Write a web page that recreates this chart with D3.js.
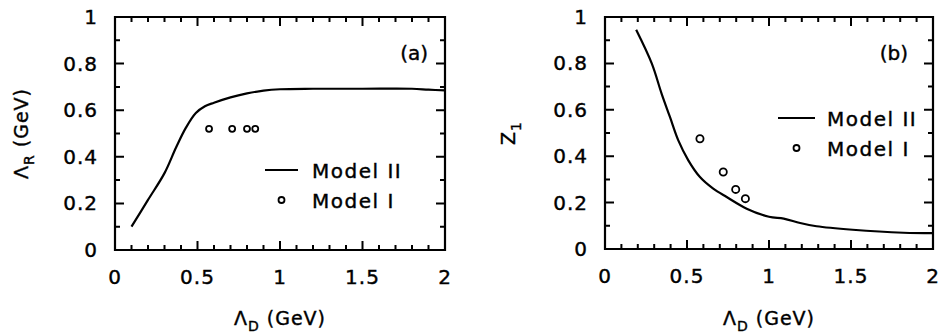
<!DOCTYPE html>
<html>
<head>
<meta charset="utf-8">
<script src="https://cdn.jsdelivr.net/npm/d3@7"></script>
<style>
  body { margin: 0; background: #fff; }
  text { font-family: "DejaVu Sans", sans-serif; fill: #000; }
</style>
</head>
<body>
<svg id="chart" width="941" height="333"></svg>
<script>
// ---- data ----
const xTicks = [0, 0.5, 1, 1.5, 2];
const xTickLabels = ["0", "0.5", "1", "1.5", "2"];
const yTicks = [0, 0.2, 0.4, 0.6, 0.8, 1];
const yTickLabels = ["0", "0.2", "0.4", "0.6", "0.8", "1"];
const xMinor = [0, 0.1, 0.2, 0.3, 0.4, 0.5, 0.6, 0.7, 0.8, 0.9, 1, 1.1, 1.2, 1.3, 1.4, 1.5, 1.6, 1.7, 1.8, 1.9, 2];
const yMinor = [0, 0.1, 0.2, 0.3, 0.4, 0.5, 0.6, 0.7, 0.8, 0.9, 1];

// Panel (a): Lambda_R vs Lambda_D
const aModel2X = [0.1, 0.2, 0.3, 0.37, 0.43, 0.49, 0.545, 0.6, 0.7, 0.8, 0.9, 1.0, 1.2, 1.5, 1.8, 1.9, 2.0];
const aModel2Y = [0.1, 0.215, 0.33, 0.44, 0.525, 0.588, 0.617, 0.632, 0.655, 0.672, 0.684, 0.69, 0.692, 0.692, 0.692, 0.688, 0.685];
const aModel1X = [0.57, 0.71, 0.80, 0.85];
const aModel1Y = [0.52, 0.52, 0.52, 0.52];

// Panel (b): Z_1 vs Lambda_D
const bModel2X = [0.19, 0.285, 0.345, 0.396, 0.447, 0.508, 0.579, 0.66, 0.742, 0.864, 1.0, 1.09, 1.19, 1.29, 1.51, 1.82, 2.0];
const bModel2Y = [0.945, 0.80, 0.67, 0.569, 0.468, 0.382, 0.31, 0.26, 0.224, 0.174, 0.139, 0.131, 0.112, 0.098, 0.083, 0.07, 0.068];
const bModel1X = [0.579, 0.721, 0.797, 0.856];
const bModel1Y = [0.475, 0.332, 0.257, 0.217];

const legendLabels = ["Model II", "Model I"];

// ---- drawing ----
const svg = d3.select("#chart");
const boxA = {left: 115, right: 445, top: 17, bottom: 250};
const boxB = {left: 605, right: 933, top: 17, bottom: 249};
const xA = d3.scaleLinear().domain([0, 2]).range([boxA.left, boxA.right]);
const yA = d3.scaleLinear().domain([0, 1]).range([boxA.bottom, boxA.top]);
const xB = d3.scaleLinear().domain([0, 2]).range([boxB.left, boxB.right]);
const yB = d3.scaleLinear().domain([0, 1]).range([boxB.bottom, boxB.top]);

const isMajX = v => Math.abs(v * 2 - Math.round(v * 2)) < 1e-6;
const isMajY = v => Math.abs(v * 5 - Math.round(v * 5)) < 1e-6;

function frameAndTicks(x, y, box) {
  const fp = d3.path();
  fp.rect(box.left, box.top, box.right - box.left, box.bottom - box.top);
  svg.append("path").attr("d", fp.toString()).attr("fill", "none")
    .attr("stroke", "#000").attr("stroke-width", 2.2);
  const tp = d3.path();
  xMinor.forEach(v => {
    const n = isMajX(v) ? 9 : 5;
    tp.moveTo(x(v), box.bottom); tp.lineTo(x(v), box.bottom - n);
    tp.moveTo(x(v), box.top); tp.lineTo(x(v), box.top + n);
  });
  yMinor.forEach(v => {
    const n = isMajY(v) ? 9 : 5;
    tp.moveTo(box.left, y(v)); tp.lineTo(box.left + n, y(v));
    tp.moveTo(box.right, y(v)); tp.lineTo(box.right - n, y(v));
  });
  svg.append("path").attr("d", tp.toString()).attr("fill", "none")
    .attr("stroke", "#000").attr("stroke-width", 2);
}
frameAndTicks(xA, yA, boxA);
frameAndTicks(xB, yB, boxB);

function labels(x, y, box, ytx, ySym, ySub, yUnit, label, labelX) {
  svg.selectAll(null).data(xTicks).enter().append("text")
    .attr("x", d => x(d)).attr("y", box.bottom + 34)
    .attr("text-anchor", "middle").attr("font-size", 20).attr("letter-spacing", 1)
    .attr("stroke", "#000").attr("stroke-width", 0.4)
    .text((d, i) => xTickLabels[i]);
  svg.selectAll(null).data(yTicks).enter().append("text")
    .attr("x", box.left - 17).attr("y", d => y(d) + 7)
    .attr("text-anchor", "end").attr("font-size", 20).attr("letter-spacing", 1)
    .attr("stroke", "#000").attr("stroke-width", 0.4)
    .text((d, i) => yTickLabels[i]);
  const xt = svg.append("text")
    .attr("x", (box.left + box.right) / 2).attr("y", 325)
    .attr("text-anchor", "middle").attr("font-size", 19).attr("letter-spacing", 1)
    .attr("stroke", "#000").attr("stroke-width", 0.4);
  xt.append("tspan").text("Λ");
  xt.append("tspan").attr("font-size", 14).attr("dy", 6).text("D");
  xt.append("tspan").attr("dy", -6).text(" (GeV)");
  const yt = svg.append("text")
    .attr("transform", `translate(${ytx},${(box.top + box.bottom) / 2}) rotate(-90)`)
    .attr("text-anchor", "middle").attr("font-size", 19).attr("letter-spacing", 1)
    .attr("stroke", "#000").attr("stroke-width", 0.4);
  yt.append("tspan").text(ySym);
  yt.append("tspan").attr("font-size", 14).attr("dy", 6).text(ySub);
  if (yUnit) yt.append("tspan").attr("dy", -6).text(yUnit);
  svg.append("text").attr("x", labelX).attr("y", box.top + 43)
    .attr("text-anchor", "end").attr("font-size", 20)
    .attr("stroke", "#000").attr("stroke-width", 0.4).text(label);
}
labels(xA, yA, boxA, 28, "Λ", "R", " (GeV)", "(a)", 428);
labels(xB, yB, boxB, 515, "Z", "1", "", "(b)", 908);

function series(x, y, m2x, m2y, m1x, m1y, r) {
  const lineGen = d3.line().x(d => x(d[0])).y(d => y(d[1])).curve(d3.curveCatmullRom.alpha(0.5));
  svg.append("path").datum(m2x.map((v, i) => [v, m2y[i]]))
    .attr("d", lineGen).attr("fill", "none").attr("stroke", "#000").attr("stroke-width", 2.2);
  svg.selectAll(null).data(m1x.map((v, i) => [v, m1y[i]])).enter().append("circle")
    .attr("cx", d => x(d[0])).attr("cy", d => y(d[1])).attr("r", r)
    .attr("fill", "none").attr("stroke", "#000").attr("stroke-width", 1.8);
}
series(xA, yA, aModel2X, aModel2Y, aModel1X, aModel1Y, 3);
series(xB, yB, bModel2X, bModel2Y, bModel1X, bModel1Y, 3.6);

function legend(x1, x2, ly, tx, dy) {
  svg.append("line").attr("x1", x1).attr("x2", x2).attr("y1", ly).attr("y2", ly)
    .attr("stroke", "#000").attr("stroke-width", 2.2);
  svg.append("text").attr("x", tx).attr("y", ly + 8).attr("font-size", 20)
    .attr("letter-spacing", 1.5).attr("stroke", "#000").attr("stroke-width", 0.4)
    .text(legendLabels[0]);
  svg.append("circle").attr("cx", (x1 + x2) / 2).attr("cy", ly + dy).attr("r", 3)
    .attr("fill", "none").attr("stroke", "#000").attr("stroke-width", 1.8);
  svg.append("text").attr("x", tx).attr("y", ly + dy + 8).attr("font-size", 20)
    .attr("letter-spacing", 1.5).attr("stroke", "#000").attr("stroke-width", 0.4)
    .text(legendLabels[1]);
}
legend(265, 298, 170, 312, 30);
legend(778, 815, 118, 827, 30);
</script>
</body>
</html>
